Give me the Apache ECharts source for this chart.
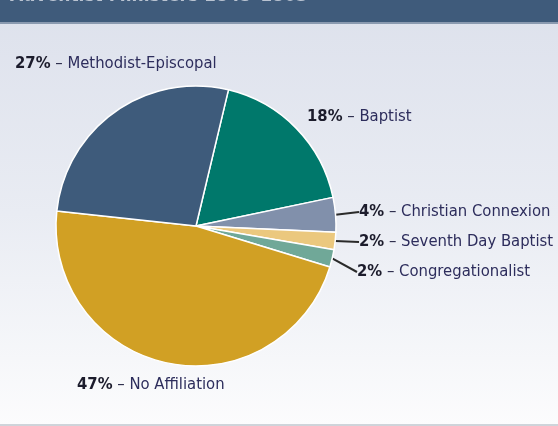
<!DOCTYPE html>
<html>
<head>
<meta charset="utf-8">
<script src="https://cdn.jsdelivr.net/npm/echarts@6/dist/echarts.min.js"></script>
<style>
html,body{margin:0;padding:0;background:#fff;}
#c{width:558px;height:426px;}
</style>
</head>
<body>
<div id="c"></div>
<script>
// Data
var categories = ['Baptist', 'Christian Connexion', 'Seventh Day Baptist', 'Congregationalist', 'No Affiliation', 'Methodist-Episcopal'];
var percents = [18, 4, 2, 2, 47, 27];
var colors = ['#00786b', '#8190ab', '#ebc87e', '#70a898', '#d1a024', '#3e5b7b'];
var titleText = 'Adventist Ministers 1845–1863';

// Label placement (styles/positions, not data)
var labelPos = {
  'Baptist': [307, 117],
  'Christian Connexion': [359, 212],
  'Seventh Day Baptist': [359, 242],
  'Congregationalist': [357, 272],
  'No Affiliation': [77, 385],
  'Methodist-Episcopal': [15, 64]
};
var withLine = {'Christian Connexion': true, 'Seventh Day Baptist': true, 'Congregationalist': true};

var FONT = "'Liberation Sans Narrow', 'DejaVu Sans Condensed', 'Roboto', sans-serif";
var FS = 16.5;

var data = categories.map(function (c, i) {
  return {
    name: c,
    value: percents[i],
    itemStyle: {color: colors[i]},
    labelLine: {show: !!withLine[c]}
  };
});

var chart = echarts.init(document.getElementById('c'), null, {renderer: 'canvas'});
chart.setOption({
  animation: false,
  backgroundColor: {
    type: 'linear', x: 0, y: 0, x2: 0, y2: 1,
    colorStops: [
      {offset: 0, color: '#dde1ec'},
      {offset: 0.5, color: '#e9ecf3'},
      {offset: 1, color: '#fcfcfd'}
    ]
  },
  graphic: [
    {type: 'rect', z: 10, shape: {x: 0, y: 0, width: 558, height: 22}, style: {fill: '#3f5b7b'}},
    {type: 'rect', z: 10, shape: {x: 0, y: 22, width: 558, height: 2}, style: {fill: '#8a9ab0'}},
    {type: 'rect', z: 10, shape: {x: 0, y: 424, width: 558, height: 2}, style: {fill: '#cfd4da'}},
    {type: 'text', z: 11, x: 10, y: -13, style: {text: titleText, fill: '#b9c3d1', fontFamily: FONT, fontSize: 19, fontWeight: 'bold'}}
  ],
  series: [{
    type: 'pie',
    center: [196, 226],
    radius: [0, 140],
    startAngle: 76.6,
    clockwise: true,
    data: data,
    itemStyle: {borderColor: '#ffffff', borderWidth: 1.5},
    label: {
      show: true,
      position: 'outside',
      overflow: 'none',
      fontFamily: FONT,
      fontSize: FS,
      formatter: function (p) { return '{p|' + p.value + '%} {d|–} {n|' + p.name + '}'; },
      rich: {
        p: {fontFamily: FONT, fontSize: FS, fontWeight: 'bold', color: '#1c1c2c'},
        d: {fontFamily: FONT, fontSize: FS, color: '#2a2a4a'},
        n: {fontFamily: FONT, fontSize: FS, color: '#2d2d5c'}
      }
    },
    labelLine: {length: 6, length2: 0, lineStyle: {color: '#2a2a2a', width: 2}},
    labelLayout: function (params) {
      var nm = categories[params.dataIndex];
      var pos = labelPos[nm];
      return {x: pos[0], y: pos[1], align: 'left', verticalAlign: 'middle'};
    },
    emphasis: {disabled: true}
  }]
});
</script>
</body>
</html>
